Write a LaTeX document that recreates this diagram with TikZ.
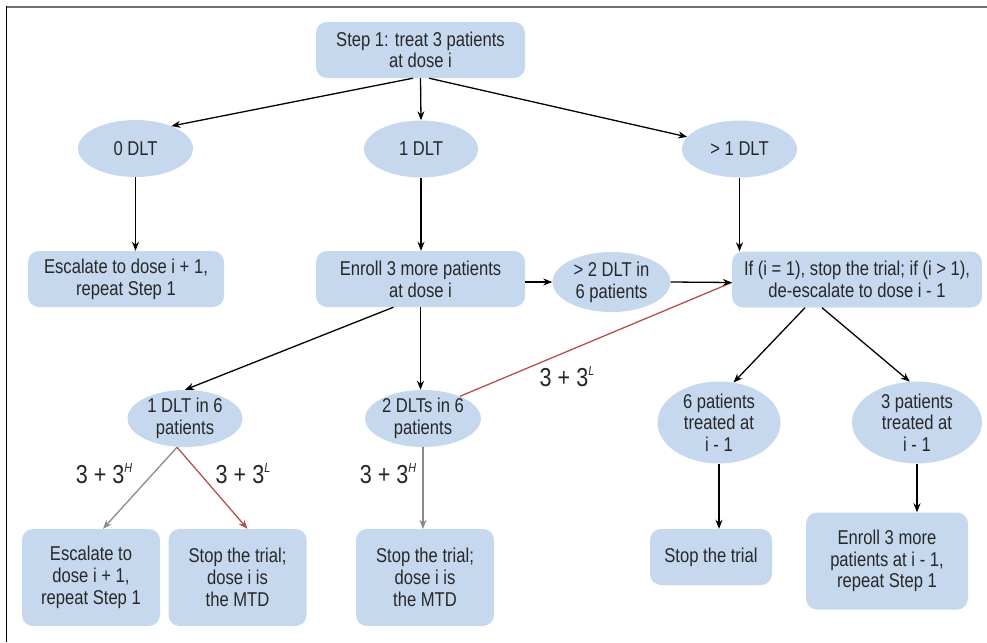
\documentclass[tikz,border=0pt]{standalone}
\usepackage{fontspec}
\setmainfont{Liberation Sans}[FakeStretch=0.83]
\usetikzlibrary{shapes.geometric,arrows.meta}
\definecolor{boxblue}{RGB}{197,216,238}
\definecolor{textgray}{RGB}{40,40,40}
\definecolor{rulegray}{RGB}{112,112,112}
\definecolor{armgray}{RGB}{138,138,138}
\definecolor{armred}{RGB}{181,80,74}
\newcommand{\designlabel}[1]{3 + 3\raisebox{0.42em}{\fontsize{13}{13}\selectfont\itshape #1}}

\begin{document}
\begin{tikzpicture}
[x=1pt,y=-1pt,
  boxdecorate/.style={shape=rectangle,rounded corners=11pt,fill=boxblue,inner sep=0pt,align=center,text=textgray,font=\fontsize{20}{21.7}\selectfont},%
  ovaldecorate/.style={shape=ellipse,fill=boxblue,inner sep=0pt,align=center,text=textgray,font=\fontsize{20}{21.7}\selectfont},%
  linedecorate/.style={-{Stealth[length=9pt,width=7pt]},line width=1.3pt},%
  labeldecorate/.style={text=black!85,font=\fontsize{26}{26}\selectfont}]
\useasboundingbox (0,0) rectangle (987,642);
%% frame
\draw[rulegray,line width=2.5pt] (6,7) -- (987,7);
\draw[black,line width=1pt] (6,6) -- (6,642);
%% rounded boxes
\foreach \nodename/\x/\y/\w/\h/\txt in {
  step1/420.5/50/209/56/{Step 1: treat 3 patients\\at dose i},
  esc/126/279/196/56/{Escalate to dose i + 1,\\repeat Step 1},
  enroll/420.5/279/209/56/{Enroll 3 more patients\\at dose i},
  ifbox/857/279.5/250/56/{If (i = 1), stop the trial; if (i > 1),\\de-escalate to dose i - 1},
  esc2/91/577.5/138/97/{Escalate to\\dose i + 1,\\repeat Step 1},
  stop1/237.5/577.5/138/97/{Stop the trial;\\dose i is\\the MTD},
  stop2/425/577.5/138/97/{Stop the trial;\\dose i is\\the MTD},
  stoptrial/711/557/122/56/{Stop the trial},
  enroll2/887/561/162/97/{Enroll 3 more\\patients at i - 1,\\repeat Step 1}} {
  \node (\nodename) at (\x,\y) [boxdecorate,minimum width=\w pt,minimum height=\h pt] {\txt};
}
%% ovals
\foreach \nodename/\x/\y/\w/\h/\txt in {
  dlt0/135.5/148.5/115/57/{0 DLT},
  dlt1/421/149/114/57/{1 DLT},
  dltgt1/739.5/149/115/57/{> 1 DLT},
  gt2/611.5/282/118/60/{> 2 DLT in\\6 patients},
  dlt1in6/185/418.5/115/57/{1 DLT in 6\\patients},
  dlt2in6/423/418.5/114/57/{2 DLTs in 6\\patients},
  pat6/719/422.5/123/81/{6 patients\\treated at\\i - 1},
  pat3/917/422.5/130/81/{3 patients\\treated at\\i - 1}} {
  \node (\nodename) at (\x,\y) [ovaldecorate,minimum width=\w pt,minimum height=\h pt] {\txt};
}
%% connector ends
\coordinate (s1left) at ([xshift=-7.5pt]step1.south);
\coordinate (s1right) at ([xshift=8.5pt]step1.south);
\coordinate (enleft) at ([xshift=-27pt]enroll.south);
\coordinate (ifleft) at ([xshift=-52pt]ifbox.south);
\coordinate (ifright) at ([xshift=-35pt]ifbox.south);
\coordinate (ifin) at ([yshift=-3pt]ifbox.west);
\coordinate (d16out) at ([xshift=-8pt]dlt1in6.south);
\coordinate (esc2in) at ([xshift=12pt]esc2.north);
\coordinate (stop1in) at ([xshift=10pt]stop1.north);
%% red 3+3L line into the de-escalation box
\draw[line width=1.3pt,armred] (dlt2in6.31) -- (ifin);
%% edges
\path
\foreach \startnode/\endnode/\tint in {
  s1left/dlt0.32/black, step1.south/dlt1.north/black, s1right/dltgt1.167/black,
  dlt0.south/dlt0.south |- esc.north/black,
  dlt1.south/dlt1.south |- enroll.north/black,
  dltgt1.south/dltgt1.south |- ifbox.north/black,
  enroll.east |- gt2.west/gt2.west/black, gt2.east/ifin/black,
  enleft/dlt1in6.north/black,
  enroll.south/enroll.south |- dlt2in6.north/black,
  ifleft/pat6.70/black, ifright/pat3.100/black,
  pat6.south/pat6.south |- stoptrial.north/black,
  pat3.south/pat3.south |- enroll2.north/black,
  d16out/esc2in/armgray, d16out/stop1in/armred,
  dlt2in6.south/dlt2in6.south |- stop2.north/armgray} {
  (\startnode) edge[linedecorate,\tint] (\endnode)
};
%% design labels
\node (lblh1) at (104,474) [labeldecorate] {\designlabel{H}};
\node (lbll1) at (243,474) [labeldecorate] {\designlabel{L}};
\node (lblh2) at (388,474) [labeldecorate] {\designlabel{H}};
\node (lbll2) at (567,377) [labeldecorate] {\designlabel{L}};
\end{tikzpicture}
\end{document}
